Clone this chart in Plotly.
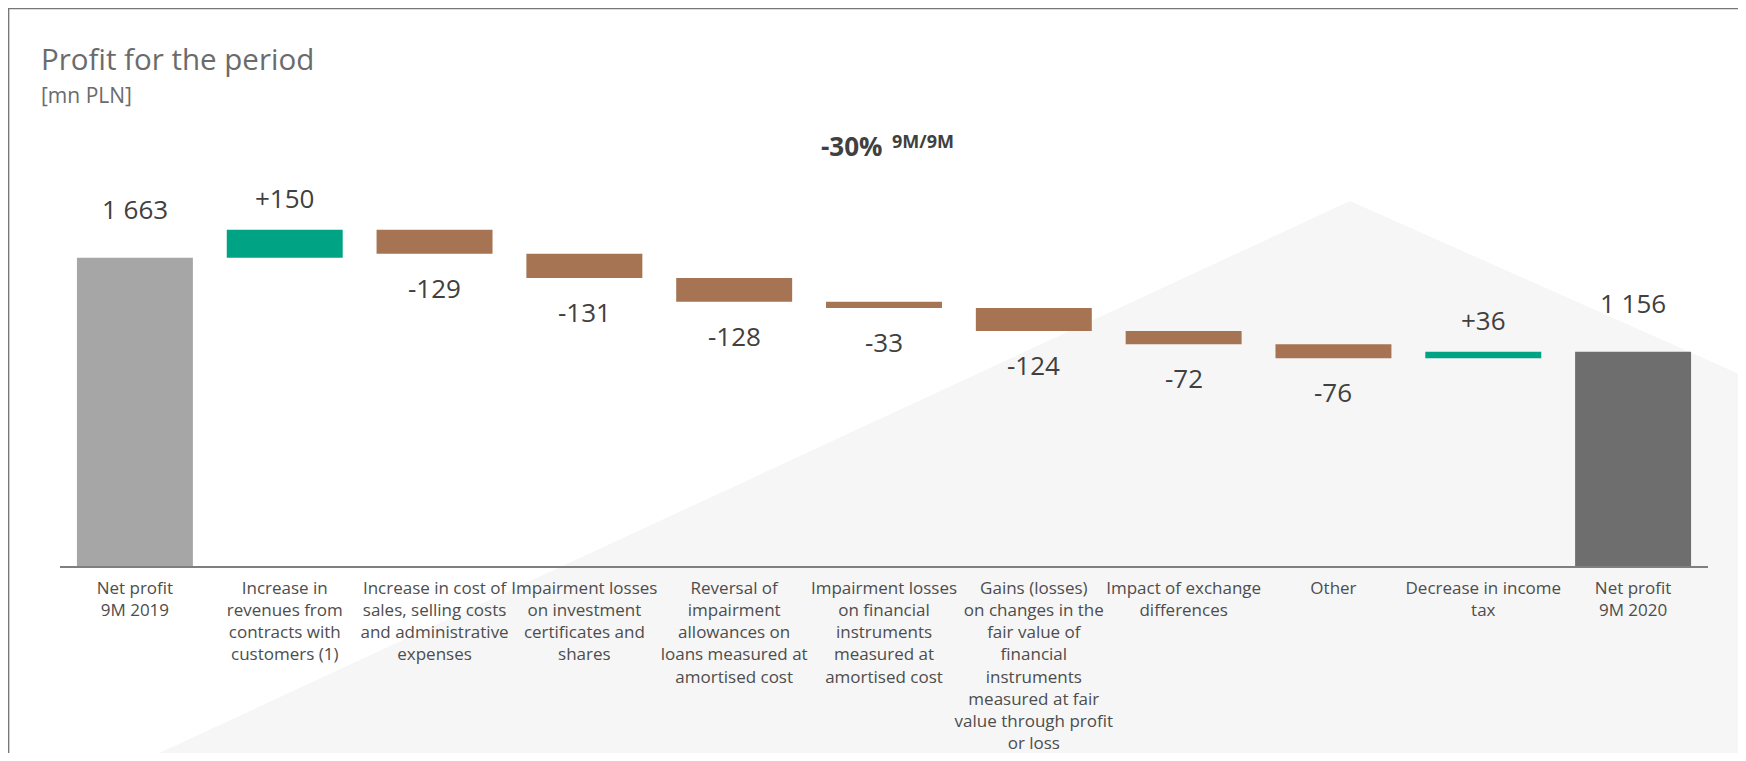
import numpy as np
import plotly.graph_objects as go

# categories (x axis)
categories = [
    "Net profit<br>9M 2019",
    "Increase in<br>revenues from<br>contracts with<br>customers (1)",
    "Increase in cost of<br>sales, selling costs<br>and administrative<br>expenses",
    "Impairment losses<br>on investment<br>certificates and<br>shares",
    "Reversal of<br>impairment<br>allowances on<br>loans measured at<br>amortised cost",
    "Impairment losses<br>on financial<br>instruments<br>measured at<br>amortised cost",
    "Gains (losses)<br>on changes in the<br>fair value of<br>financial<br>instruments<br>measured at fair<br>value through profit<br>or loss",
    "Impact of exchange<br>differences",
    "Other",
    "Decrease in income<br>tax",
    "Net profit<br>9M 2020",
]

# values [mn PLN]
profit_start = 1663
changes = [150, -129, -131, -128, -33, -124, -72, -76, 36]
profit_end = 1156

title = "Profit for the period"
subtitle = "[mn PLN]"
change_pct = "-30%"
change_period = "9M/9M"

# colours
col_start = "#a6a6a6"
col_end = "#6e6e6e"
col_up = "#00a383"
col_down = "#a67452"
txt = "#404040"

# waterfall geometry from the data
levels = profit_start + np.cumsum(changes)
bases = [0] + [profit_start] + list(levels[:-1]) + [0]
heights = [profit_start] + changes + [profit_end]
colors = [col_start] + [col_up if c > 0 else col_down for c in changes] + [col_end]

# the page body adds an 8px margin, positions below are page pixels
OFF = 8
W, H = 1738, 745
L, R, T, B = 52, 38, 141, 187
pw, ph = W - L - R, H - T - B


def px_x(px):
    return (px - OFF - L) / pw


def px_y(py):
    return (H - B - (py - OFF)) / ph


fig = go.Figure()
fig.add_trace(go.Bar(
    x=categories, y=heights, base=bases,
    marker=dict(color=colors, line=dict(width=0)),
    hoverinfo="skip", showlegend=False,
))

# value labels
annotations = []
for i, (cat, b, h) in enumerate(zip(categories, bases, heights)):
    total = i in (0, len(categories) - 1)
    if total:
        label = f"{h:,}".replace(",", " ")
        shift = 49
    elif h > 0:
        label = f"{h:+d}"
        shift = 32
    else:
        label = f"{h:d}"
        shift = -34
    annotations.append(dict(
        x=cat, y=b + h, xref="x", yref="y", text=label, showarrow=False,
        yshift=shift, yanchor="middle",
        font=dict(family="Open Sans", size=26, color=txt),
    ))

annotations += [
    dict(x=px_x(39), y=px_y(58), xref="paper", yref="paper", text=title,
         showarrow=False, xanchor="left", yanchor="middle",
         font=dict(family="Open Sans", size=29.5, color="#6b6b6b")),
    dict(x=px_x(39), y=px_y(95), xref="paper", yref="paper", text=subtitle,
         showarrow=False, xanchor="left", yanchor="middle",
         font=dict(family="Open Sans", size=21, color="#6b6b6b")),
    dict(x=px_x(852), y=px_y(146), xref="paper", yref="paper", text="<b>" + change_pct + "</b>",
         showarrow=False, xanchor="center", yanchor="middle",
         font=dict(family="Open Sans", size=26, color=txt)),
    dict(x=px_x(890), y=px_y(141), xref="paper", yref="paper", text="<b>" + change_period + "</b>",
         showarrow=False, xanchor="left", yanchor="middle",
         font=dict(family="Open Sans", size=18, color=txt)),
]

shapes = [
    # light background roof
    dict(type="path", xref="paper", yref="paper", layer="below",
         path=f"M {px_x(142)} {px_y(761)} L {px_x(1350)} {px_y(201)} "
              f"L {px_x(1746)} {px_y(377)} L {px_x(1746)} {px_y(761)} Z",
         fillcolor="#f6f6f6", line=dict(width=0)),
    # frame (top and left)
    dict(type="line", xref="paper", yref="paper", x0=px_x(8), x1=px_x(1746),
         y0=px_y(8.6), y1=px_y(8.6), line=dict(color="#777777", width=1.5)),
    dict(type="line", xref="paper", yref="paper", x0=px_x(8.6), x1=px_x(8.6),
         y0=px_y(8), y1=px_y(761), line=dict(color="#777777", width=1.5)),
]

fig.update_layout(
    width=W, height=H,
    margin=dict(l=L, r=R, t=T, b=B, pad=0, autoexpand=False),
    paper_bgcolor="white", plot_bgcolor="rgba(0,0,0,0)",
    bargap=0.226,
    font=dict(family="Open Sans", color="#4d4d4d"),
    annotations=annotations, shapes=shapes,
    showlegend=False,
)
fig.update_xaxes(
    range=[-0.5, len(categories) - 0.5], showline=True, linecolor="#7f7f7f", linewidth=1.5,
    showgrid=False, zeroline=False, ticks="", tickangle=0, ticklabelstandoff=6,
    automargin=False,
    tickfont=dict(family="Open Sans", size=17, color="#4d4d4d"),
)
fig.update_yaxes(range=[0, 2249], visible=False, showgrid=False, zeroline=False, automargin=False)

fig.write_html("out.html")
